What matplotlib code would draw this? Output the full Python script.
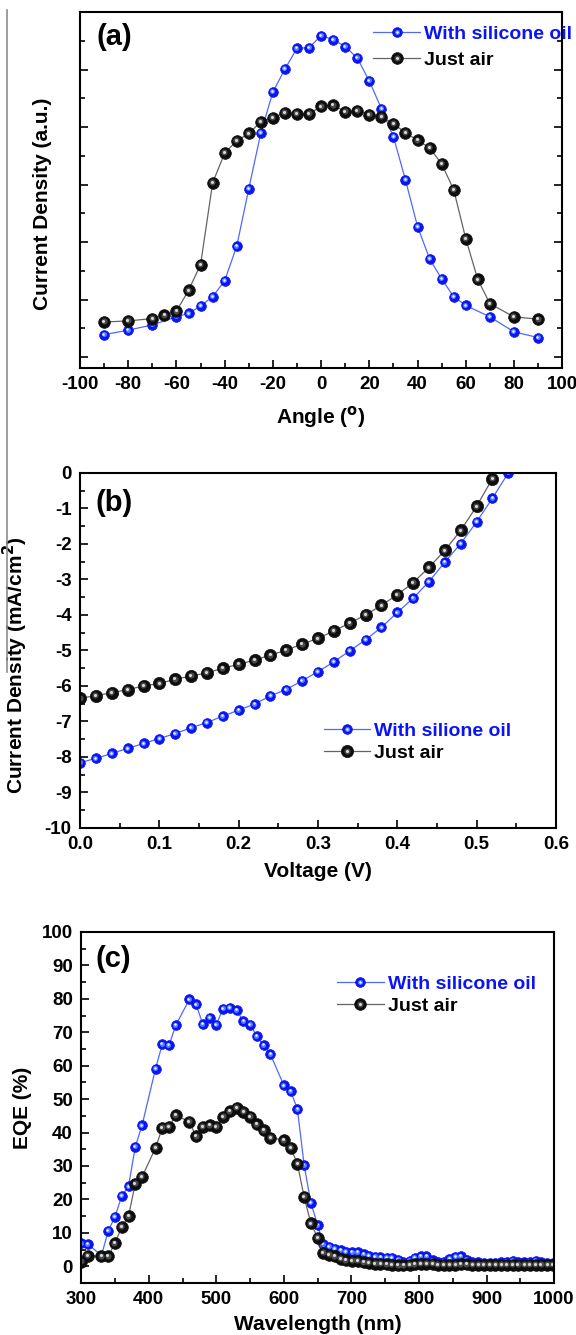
import matplotlib
matplotlib.use('Agg')
import matplotlib.pyplot as plt
from matplotlib.lines import Line2D
from matplotlib.ticker import MultipleLocator
from matplotlib.transforms import offset_copy

plt.rcParams['font.family'] = ['Liberation Sans', 'DejaVu Sans']
plt.rcParams['font.weight'] = 'bold'
plt.rcParams['axes.unicode_minus'] = False

# ---- panel (a): angle dependence ----
ang_oil = [-90, -80, -70, -60, -55, -50, -45, -40, -35, -30, -25, -20, -15, -10, -5,
           0, 5, 10, 15, 20, 25, 30, 35, 40, 45, 50, 55, 60, 70, 80, 90]
cur_oil = [0.39, 0.47, 0.56, 0.70, 0.76, 0.89, 1.05, 1.33, 1.93, 2.93, 3.90, 4.61, 5.01, 5.37, 5.38,
           5.59, 5.52, 5.40, 5.20, 4.80, 4.32, 3.83, 3.08, 2.27, 1.71, 1.36, 1.05, 0.90, 0.70, 0.44, 0.34]
ang_air = [-90, -80, -70, -65, -60, -55, -50, -45, -40, -35, -30, -25, -20, -15, -10, -5,
           0, 5, 10, 15, 20, 25, 30, 35, 40, 45, 50, 55, 60, 65, 70, 80, 90]
cur_air = [0.61, 0.63, 0.67, 0.73, 0.80, 1.16, 1.61, 3.03, 3.55, 3.76, 3.89, 4.09, 4.16, 4.25, 4.23, 4.23,
           4.36, 4.38, 4.27, 4.28, 4.21, 4.18, 4.06, 3.90, 3.77, 3.64, 3.36, 2.91, 2.06, 1.35, 0.93, 0.70, 0.66]

# ---- panel (b): J-V ----
v_oil = [0.00, 0.02, 0.04, 0.06, 0.08, 0.10, 0.12, 0.14, 0.16, 0.18, 0.20, 0.22, 0.24, 0.26,
         0.28, 0.30, 0.32, 0.34, 0.36, 0.38, 0.40, 0.42, 0.44, 0.46, 0.48, 0.50, 0.52, 0.54]
j_oil = [-8.16, -8.04, -7.90, -7.76, -7.62, -7.48, -7.34, -7.18, -7.03, -6.85, -6.68, -6.51, -6.28, -6.10,
         -5.85, -5.60, -5.32, -5.01, -4.70, -4.35, -3.93, -3.53, -3.06, -2.51, -1.99, -1.38, -0.71, 0.0]
v_air = [0.00, 0.02, 0.04, 0.06, 0.08, 0.10, 0.12, 0.14, 0.16, 0.18, 0.20, 0.22, 0.24, 0.26,
         0.28, 0.30, 0.32, 0.34, 0.36, 0.38, 0.40, 0.42, 0.44, 0.46, 0.48, 0.50, 0.52]
j_air = [-6.35, -6.27, -6.19, -6.10, -6.00, -5.93, -5.81, -5.72, -5.63, -5.50, -5.39, -5.27, -5.13, -4.99,
         -4.82, -4.66, -4.45, -4.23, -4.00, -3.73, -3.43, -3.09, -2.66, -2.18, -1.62, -0.94, -0.16]

# ---- panel (c): EQE ----
wl = [300, 310, 330, 340, 350, 360, 370, 380, 390, 410, 420, 430, 440, 460, 470, 480, 490, 500,
      510, 520, 530, 540, 550, 560, 570, 580, 600, 610, 620, 630, 640, 650,
      658, 667, 675, 684, 692, 701, 709, 718, 726, 735, 743, 752, 760, 769, 777, 786, 794, 803,
      811, 820, 828, 837, 845, 854, 862, 871, 879, 888, 896, 905, 913, 922, 930, 939, 947, 956,
      964, 973, 981, 990, 998]
eqe_oil = [6.8, 6.6, 3.2, 10.6, 14.8, 21.0, 23.9, 35.7, 42.1, 59.1, 66.4, 66.1, 72.1, 79.8, 78.3, 72.4, 74.4, 72.3,
           77.1, 77.3, 76.6, 73.3, 72.3, 68.8, 66.1, 63.4, 54.1, 52.4, 47.0, 30.2, 18.9, 12.3,
           6.6, 5.8, 5.3, 4.8, 4.4, 4.2, 4.2, 3.6, 3.2, 2.9, 2.7, 2.6, 2.6, 1.9, 1.4, 1.6, 2.6, 3.0,
           3.0, 1.8, 1.3, 1.3, 2.2, 2.8, 3.0, 2.0, 1.4, 1.2, 1.1, 1.1, 1.1, 1.2, 1.4, 1.6, 1.4, 1.2,
           1.4, 1.6, 1.2, 1.1, 1.1]
eqe_air = [1.3, 3.1, 3.0, 3.0, 6.9, 11.8, 15.0, 24.7, 26.7, 35.4, 41.4, 41.7, 45.2, 43.2, 38.9, 41.7, 42.2, 41.7,
           44.7, 46.4, 47.4, 46.2, 44.7, 42.5, 40.7, 38.5, 37.7, 35.4, 30.7, 20.7, 12.8, 8.5,
           4.1, 3.5, 3.0, 2.3, 1.8, 1.6, 1.6, 1.2, 1.0, 0.8, 0.7, 0.6, 0.4, 0.3, 0.3, 0.5, 0.6, 0.8,
           0.8, 0.7, 0.5, 0.4, 0.4, 0.5, 0.6, 0.6, 0.5, 0.4, 0.4, 0.4, 0.4, 0.4, 0.4, 0.5, 0.5, 0.5,
           0.5, 0.4, 0.4, 0.4, 0.4]

BLUE = '#0a14f5'
BLUE_LINE = '#5068ff'
BLACK = '#0d0d0d'
BLACK_LINE = '#6a6262'

TICK_FS = 13.5
LABEL_FS = 15
LEG_FS = 14


def balls(ax, x, y, face, line_col, ms, glow_col, glow_ms, hl_col, hl_ms):
    # shiny sphere look: dark dot, softer inner glow, small bright highlight
    main, = ax.plot(x, y, '-o', color=line_col, lw=0.9, ms=ms, mfc=face, mec=face, mew=0.5)
    tr = offset_copy(ax.transData, fig=fig, x=-0.4, y=0.4, units='points')
    glow, = ax.plot(x, y, 'o', ms=glow_ms, mfc=glow_col, mec='none', transform=tr)
    tr2 = offset_copy(ax.transData, fig=fig, x=-0.6, y=0.6, units='points')
    hl, = ax.plot(x, y, 'o', ms=hl_ms, mfc=hl_col, mec='none', transform=tr2)
    return (main, glow, hl)


def style(ax, right_ticks=False):
    for s in ax.spines.values():
        s.set_linewidth(1.5)
    ax.tick_params(which='both', direction='in', width=1.2, labelsize=TICK_FS,
                   top=False, right=right_ticks, pad=6)
    ax.tick_params(which='major', length=6)
    ax.tick_params(which='minor', length=3.5)
    for t in ax.get_xticklabels() + ax.get_yticklabels():
        t.set_fontweight('bold')


def legend(ax, handles, labels, x, y, spacing):
    leg = ax.legend(handles, labels, loc='upper left', bbox_to_anchor=(x, y), frameon=False,
                    handlelength=2.4, handletextpad=0.2, borderpad=0,
                    borderaxespad=0, labelspacing=spacing,
                    prop={'weight': 'bold', 'size': LEG_FS})
    leg.get_texts()[0].set_color(BLUE)
    return leg


fig = plt.figure(figsize=(5.76, 13.35), dpi=100)

blue_style = dict(face=BLUE, line_col=BLUE_LINE, ms=7.0, glow_col='#4f7dff', glow_ms=3.6,
                  hl_col='#eef4ff', hl_ms=1.8)
black_style = dict(face=BLACK, line_col=BLACK_LINE, ms=8.4, glow_col='#4a4a4a', glow_ms=4.4,
                   hl_col='#d8d8d8', hl_ms=2.2)

# ---------- (a) ----------
ax1 = fig.add_axes([0.139, 0.7243, 0.837, 0.2667])
h1 = balls(ax1, ang_oil, cur_oil, **blue_style)
h2 = balls(ax1, ang_air, cur_air, **black_style)
ax1.set_xlim(-100, 100)
ax1.set_ylim(-0.19, 6.0)
ax1.xaxis.set_major_locator(MultipleLocator(20))
ax1.xaxis.set_minor_locator(MultipleLocator(10))
ax1.yaxis.set_major_locator(MultipleLocator(1))
ax1.yaxis.set_minor_locator(MultipleLocator(0.5))
style(ax1, right_ticks=True)
ax1.tick_params(labelleft=False)
ax1.set_xlabel('Angle ($\\mathbf{^{o}}$)', fontsize=LABEL_FS, fontweight='bold')
ax1.set_ylabel('Current Density (a.u.)', fontsize=LABEL_FS, fontweight='bold')
ax1.xaxis.set_label_coords(0.5, -0.10)
ax1.yaxis.set_label_coords(-0.058, 0.46)
ax1.text(0.071, 0.93, '(a)', transform=ax1.transAxes, fontsize=21, fontweight='bold',
         ha='center', va='center')
legend(ax1, [h1, h2], ['With silicone oil', 'Just air'], 0.608, 0.963, 0.45)

# ---------- (b) ----------
ax2 = fig.add_axes([0.139, 0.3798, 0.826, 0.2659])
h1 = balls(ax2, v_oil, j_oil, **blue_style)
h2 = balls(ax2, v_air, j_air, **dict(black_style, ms=8.8))
ax2.set_xlim(0, 0.6)
ax2.set_ylim(-10, 0)
ax2.xaxis.set_major_locator(MultipleLocator(0.1))
ax2.xaxis.set_minor_locator(MultipleLocator(0.05))
ax2.yaxis.set_major_locator(MultipleLocator(1))
ax2.yaxis.set_minor_locator(MultipleLocator(0.5))
ax2.xaxis.set_major_formatter(matplotlib.ticker.FormatStrFormatter('%.1f'))
ax2.yaxis.set_major_formatter(matplotlib.ticker.FormatStrFormatter('%d'))
style(ax2)
ax2.set_xlabel('Voltage (V)', fontsize=LABEL_FS, fontweight='bold')
ax2.set_ylabel('Current Density (mA/cm$\\mathbf{^{2}}$)', fontsize=LABEL_FS, fontweight='bold')
ax2.xaxis.set_label_coords(0.5, -0.095)
ax2.yaxis.set_label_coords(-0.105, 0.46)
ax2.text(0.071, 0.915, '(b)', transform=ax2.transAxes, fontsize=21, fontweight='bold',
         ha='center', va='center')
legend(ax2, [h1, h2], ['With silione oil', 'Just air'], 0.512, 0.298, 0.25)

# ---------- (c) ----------
ax3 = fig.add_axes([0.141, 0.039, 0.821, 0.2629])
h1 = balls(ax3, wl, eqe_oil, **blue_style)
h2 = balls(ax3, wl, eqe_air, **black_style)
ax3.set_xlim(300, 1000)
ax3.set_ylim(-5, 100)
ax3.xaxis.set_major_locator(MultipleLocator(100))
ax3.xaxis.set_minor_locator(MultipleLocator(50))
ax3.yaxis.set_major_locator(MultipleLocator(10))
ax3.yaxis.set_minor_locator(MultipleLocator(5))
style(ax3)
ax3.set_xlabel('Wavelength (nm)', fontsize=LABEL_FS, fontweight='bold')
ax3.set_ylabel('EQE (%)', fontsize=LABEL_FS, fontweight='bold')
ax3.xaxis.set_label_coords(0.5, -0.09)
ax3.yaxis.set_label_coords(-0.104, 0.5)
ax3.text(0.068, 0.923, '(c)', transform=ax3.transAxes, fontsize=21, fontweight='bold',
         ha='center', va='center')
legend(ax3, [h1, h2], ['With silicone oil', 'Just air'], 0.541, 0.877, 0.25)

# thin grey rule at the left edge of the scanned page
fig.add_artist(Line2D([7 / 576, 7 / 576], [1 - 10 / 1335, 1 - 672 / 1335],
                      transform=fig.transFigure, color='#8c8c8c', lw=1.2))

fig.savefig('out.png', dpi=100)
